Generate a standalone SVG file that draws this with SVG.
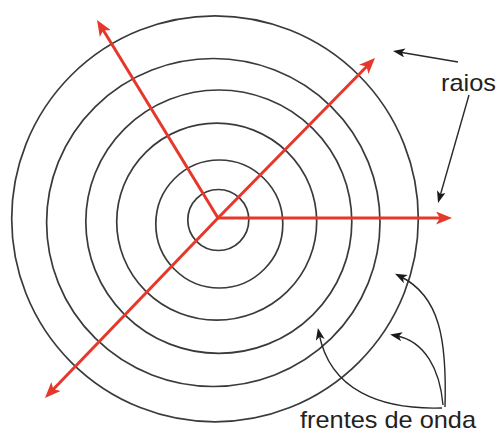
<svg xmlns="http://www.w3.org/2000/svg" width="499" height="434" viewBox="0 0 499 434">
  <style>
    .wave { fill: none; stroke: #3a3a3a; stroke-width: 1.7; }
    .ray { fill: none; stroke: #e5382a; stroke-width: 3; }
    .note { fill: none; stroke: #2a2a2a; stroke-width: 1.4; }
    .label { font-family: "Liberation Sans", Arial, sans-serif; font-size: 24px; fill: #222; }
  </style>
  <defs>
    <marker id="redHead" markerUnits="userSpaceOnUse" markerWidth="18" markerHeight="15" refX="8" refY="6.5" orient="auto">
      <path d="M0,0 L16,6.5 L0,13 L4,6.5 z" fill="#e5382a"/>
    </marker>
    <marker id="blackHead" markerUnits="userSpaceOnUse" markerWidth="14" markerHeight="11" refX="6" refY="4.5" orient="auto">
      <path d="M0,0 L12,4.5 L0,9 L3,4.5 z" fill="#1a1a1a"/>
    </marker>
  </defs>
  <rect width="499" height="434" fill="#ffffff"/>

  <g id="wavefronts">
    <circle class="wave" cx="218.3" cy="220" r="30.5"/>
    <ellipse class="wave" cx="219.3" cy="224" rx="63.5" ry="64"/>
    <ellipse class="wave" cx="216.7" cy="221.7" rx="100" ry="98.5"/>
    <ellipse class="wave" cx="218.8" cy="221.7" rx="133" ry="131.7"/>
    <ellipse class="wave" cx="213.3" cy="222.5" rx="166.7" ry="164"/>
    <ellipse class="wave" cx="215" cy="218.8" rx="203.3" ry="203"/>
  </g>

  <g id="rays">
    <line class="ray" x1="218" y1="218" x2="101.2" y2="26.8" marker-end="url(#redHead)"/>
    <line class="ray" x1="218" y1="218" x2="369.4" y2="63.7" marker-end="url(#redHead)"/>
    <line class="ray" x1="218" y1="218" x2="444" y2="218" marker-end="url(#redHead)"/>
    <line class="ray" x1="218" y1="218" x2="50.5" y2="392.2" marker-end="url(#redHead)"/>
  </g>

  <g id="connectors">
    <line class="note" x1="458" y1="62" x2="398.9" y2="52" marker-end="url(#blackHead)"/>
    <line class="note" x1="469" y1="95" x2="439.7" y2="197.2" marker-end="url(#blackHead)"/>
    <path class="note" d="M445,407 C447,340 440,296 400.4,276.5" marker-end="url(#blackHead)"/>
    <path class="note" d="M443,405 C440,370 425,341 396,335.7" marker-end="url(#blackHead)"/>
    <path class="note" d="M442,408 C380,410 330,390 319.1,333.9" marker-end="url(#blackHead)"/>
  </g>

  <g id="label-raios">
    <text class="label" x="441" y="91" textLength="55" lengthAdjust="spacingAndGlyphs">raios</text>
  </g>
  <g id="label-frentes">
    <text class="label" x="300" y="428" textLength="176" lengthAdjust="spacingAndGlyphs">frentes de onda</text>
  </g>
</svg>
